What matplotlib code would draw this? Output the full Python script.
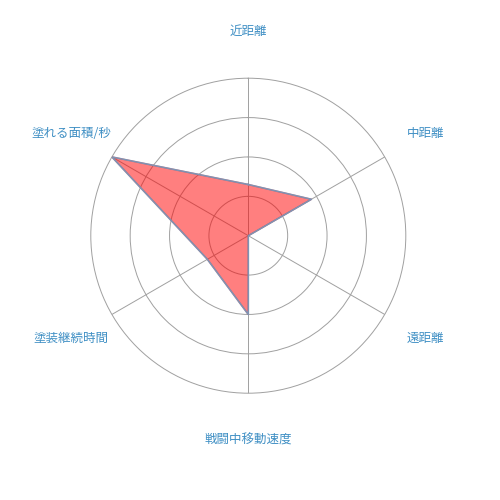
import numpy as np
import matplotlib
matplotlib.use("Agg")
import matplotlib.pyplot as plt

plt.rcParams['font.family'] = ['Noto Sans CJK JP', 'DejaVu Sans']

# axis labels, clockwise from the top
labels = ['近距離', '中距離', '遠距離', '戦闘中移動速度', '塗装継続時間', '塗れる面積/秒']
values = [1.3, 1.85, 0.0, 2.0, 1.2, 4.0]
ring_ticks = [1, 2, 3]
rmax = 4

n = len(labels)
angles = np.linspace(0, 2 * np.pi, n, endpoint=False)

fig = plt.figure(figsize=(5, 5), dpi=100)
ax = fig.add_axes([0.1816, 0.2136, 0.63, 0.63], projection='polar')
ax.set_theta_offset(np.pi / 2)
ax.set_theta_direction(-1)
ax.set_ylim(0, rmax)

ax.set_xticks(angles)
ax.set_xticklabels([])
ax.set_yticks(ring_ticks)
ax.set_yticklabels([])
ax.grid(True, color='#a0a0a0', linewidth=0.7)
ax.spines['polar'].set_color('#a0a0a0')
ax.spines['polar'].set_linewidth(0.7)

closed_a = np.append(angles, angles[0])
closed_v = np.append(values, values[0])
ax.fill(closed_a, closed_v, color=(1, 0, 0, 0.5), zorder=3)
ax.plot(closed_a, closed_v, color='#7f93b3', linewidth=1.2, zorder=4)

for a, lab in zip(angles, labels):
    ax.text(a, rmax * 1.30, lab, ha='center', va='center', fontsize=9,
            color='#3f8fc4', clip_on=False)

fig.savefig('out.png', dpi=100)
